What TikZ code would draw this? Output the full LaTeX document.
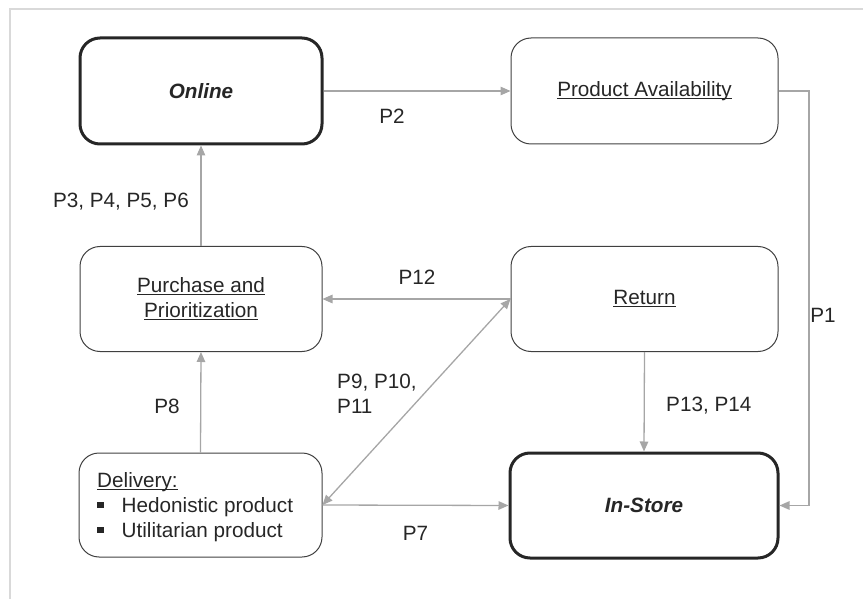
\documentclass[tikz,border=0pt]{standalone}
\usepackage{fontspec}
\setmainfont{Liberation Sans}
\usetikzlibrary{arrows.meta}
\definecolor{txt}{HTML}{262626}
\definecolor{bord}{HTML}{404040}
\definecolor{conn}{HTML}{A6A6A6}
\definecolor{frame}{HTML}{D9D9D9}
\newcommand{\ulx}[1]{\setbox0\hbox{#1}\rlap{\rule[-2.6pt]{\wd0}{1.1pt}}\box0}
\newcommand{\sqbul}{\raisebox{4pt}{\rule{6.5pt}{6.5pt}}}
\tikzset{
  every node/.style={font=\fontsize{20.7}{24.8}\selectfont, text=txt},
  box/.style={draw=bord, line width=1pt, rounded corners=20pt, align=center, inner sep=0pt},
  thickbox/.style={box, draw=txt, line width=3pt},
  lbl/.style={inner sep=0pt},
  arr/.style={draw=conn, line width=1.3pt, -{Triangle[length=10pt,width=8.5pt]}},
  arrtwo/.style={draw=conn, line width=1.3pt, {Triangle[length=10pt,width=8.5pt]}-{Triangle[length=10pt,width=8.5pt]}},
}
\begin{document}
\begin{tikzpicture}[x=1pt, y=-1pt]
\useasboundingbox (0,0) rectangle (863,599);
% frame
\draw[frame, line width=1.5pt] (10,599) -- (10,9) -- (863,9);
% boxes
\node[thickbox, minimum width=242pt, minimum height=106pt] (on) at (201,91) {\textbf{\textit{Online}}};
\node[box, minimum width=267pt, minimum height=106pt] (pa) at (644.5,91) {\ulx{Product Availability}};
\node[box, minimum width=242pt, minimum height=105pt] (pp) at (201,299) {\ulx{Purchase and}\\\ulx{Prioritization}};
\node[box, minimum width=267pt, minimum height=105pt] (ret) at (644.5,299) {\ulx{Return}};
\node[box, minimum width=243pt, minimum height=104pt] (del) at (200.5,505) {};
\node[lbl, anchor=west, align=left] (deltext) at (97,507) {\ulx{Delivery:}\\\sqbul\hspace{18pt}Hedonistic product\\\sqbul\hspace{18pt}Utilitarian product};
\node[thickbox, minimum width=268pt, minimum height=105pt] (ins) at (644,505.5) {\textbf{\textit{In-Store}}};
% connectors
\coordinate (rt) at (809,91);
\draw[arr] (on.east) -- (pa.west);
\draw[arr] (pa.east) -- (rt) |- (ins.east);
\draw[arr] (pp.north) -- (on.south);
\draw[arr] (ret.west) -- (pp.east);
\draw[arr] (del.north) -- (pp.south);
\draw[arr] (del.east) -- (ins.west);
\draw[arr] (ret.south) -- (ins.north);
\draw[arrtwo] (del.east) -- (ret.west);
% labels
\node[lbl] (p2) at (392,116) {P2};
\node[lbl, anchor=east] (p3) at (189,202) {P3, P4, P5, P6};
\node[lbl] (p12) at (417,277) {P12};
\node[lbl] (p8) at (167,406) {P8};
\node[lbl, anchor=west, align=left] (p9) at (337,393.5) {P9, P10,\\P11};
\node[lbl, anchor=west] (p13) at (666,406) {P13, P14};
\node[lbl] (p7) at (415.5,533) {P7};
\node[lbl] (p1) at (823,315) {P1};
\end{tikzpicture}
\end{document}
